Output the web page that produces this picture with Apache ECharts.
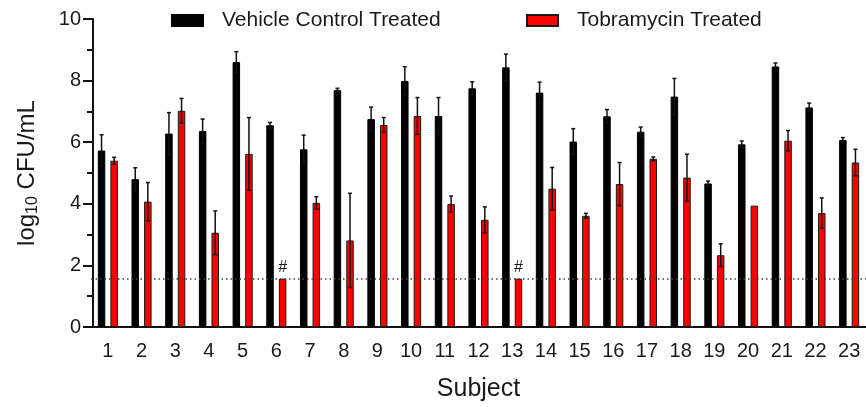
<!DOCTYPE html>
<html><head><meta charset="utf-8">
<script src="https://cdn.jsdelivr.net/npm/echarts@6/dist/echarts.min.js"></script>
<style>html,body{margin:0;padding:0;background:#fff}#c{width:866px;height:407px}</style>
</head><body><div id="c"></div>
<script>
const subjects = ['1','2','3','4','5','6','7','8','9','10','11','12','13','14','15','16','17','18','19','20','21','22','23'];
const vehicle    = [5.73,4.80,6.28,6.36,8.60,6.55,5.77,7.69,6.75,7.99,6.85,7.75,8.43,7.61,6.02,6.84,6.34,7.48,4.66,5.93,8.46,7.13,6.07];
const vehicleErr = [0.51,0.37,0.68,0.39,0.34,0.09,0.46,0.06,0.39,0.46,0.60,0.21,0.43,0.34,0.42,0.22,0.15,0.59,0.08,0.11,0.11,0.14,0.08];
const tobra      = [5.40,4.07,7.02,3.06,5.62,1.57,4.03,2.81,6.56,6.85,3.99,3.48,1.57,4.49,3.61,4.64,5.46,4.85,2.33,3.94,6.05,3.70,5.34];
const tobraErr   = [0.11,0.62,0.40,0.71,1.18,0,0.20,1.53,0.24,0.60,0.26,0.42,0,0.69,0.08,0.70,0.06,0.76,0.37,0,0.33,0.49,0.43];
const markedSubjects = ['6','13'];
const markText = '#';
const detectionLimit = 1.57;
const yTicks = [0, 10, 2];

const FONT = 'Liberation Sans, Arial, sans-serif';
const TXT = '#1a1a1a';
const BAR_W = 7.5, BAR_GAP = 0.68;
const HALF = BAR_W * (1 + BAR_GAP) / 2;

function errRenderer(offset) {
  return function (params, api) {
    const i = api.value(0), v = api.value(1), e = api.value(2);
    if (!e) return null;
    const top = api.coord([i, v + e]);
    const bot = api.coord([i, v - e]);
    const x = top[0] + offset, cap = 2;
    const st = { stroke: '#111', lineWidth: 1.5 };
    return { type: 'group', children: [
      { type: 'line', shape: { x1: x, y1: top[1], x2: x, y2: bot[1] }, style: st },
      { type: 'line', shape: { x1: x - cap, y1: top[1], x2: x + cap, y2: top[1] }, style: st },
      { type: 'line', shape: { x1: x - cap, y1: bot[1], x2: x + cap, y2: bot[1] }, style: st }
    ]};
  };
}

const chart = echarts.init(document.getElementById('c'), null, { renderer: 'canvas' });
chart.setOption({
  animation: false,
  textStyle: { fontFamily: FONT },
  grid: { left: 91, top: 19, width: 776, height: 308.5, containLabel: false },
  legend: [
    { left: 171, top: 10, padding: 0, itemWidth: 31, itemHeight: 11, icon: 'rect', data: ['Vehicle Control Treated'],
      textStyle: { fontFamily: FONT, fontSize: 21, color: TXT, padding: [0, 0, 0, 14] } },
    { left: 526, top: 10, padding: 0, itemWidth: 31, itemHeight: 11, icon: 'rect', data: ['Tobramycin Treated'],
      textStyle: { fontFamily: FONT, fontSize: 21, color: TXT, padding: [0, 0, 0, 14] } }
  ],
  xAxis: {
    type: 'category', data: subjects, boundaryGap: true,
    name: 'Subject', nameLocation: 'middle', nameGap: 50,
    nameTextStyle: { fontFamily: FONT, fontSize: 25, color: TXT },
    axisLine: { lineStyle: { color: '#111', width: 2 } },
    axisTick: { alignWithLabel: true, length: 10, lineStyle: { color: '#111', width: 2 } },
    axisLabel: { fontFamily: FONT, fontSize: 20, color: TXT, margin: 14 },
    splitLine: { show: false }
  },
  yAxis: {
    type: 'value', min: yTicks[0], max: yTicks[1], interval: yTicks[2], offset: -2,
    name: 'log{sub|10} CFU/mL', nameLocation: 'middle', nameGap: 52, nameRotate: 90,
    nameTextStyle: { fontFamily: FONT, fontSize: 24, color: TXT,
      rich: { sub: { fontFamily: FONT, fontSize: 16, color: TXT, padding: [12, 0, 0, 0] } } },
    axisLine: { show: true, lineStyle: { color: '#111', width: 2 } },
    axisTick: { show: true, length: 10, lineStyle: { color: '#111', width: 2 } },
    minorTick: { show: true, splitNumber: 2, length: 6, lineStyle: { color: '#111', width: 2 } },
    axisLabel: { fontFamily: FONT, fontSize: 20, color: TXT, margin: 12 },
    splitLine: { show: false }
  },
  series: [
    { type: 'line', data: [], z: 1, silent: true,
      markLine: { silent: true, symbol: 'none', label: { show: false },
        lineStyle: { color: '#444', width: 1.5, type: [1.5, 3] },
        data: [{ yAxis: detectionLimit }] } },
    { name: 'Vehicle Control Treated', type: 'bar', data: vehicle, z: 2,
      barWidth: BAR_W, barGap: (BAR_GAP * 100) + '%',
      itemStyle: { color: '#000', borderColor: '#000', borderWidth: 1 } },
    { name: 'Tobramycin Treated', type: 'bar', z: 2, barWidth: BAR_W,
      data: tobra.map((v, i) => markedSubjects.includes(subjects[i])
        ? { value: v, label: { show: true, position: 'top', distance: 3, formatter: markText,
            fontFamily: FONT, fontSize: 16, color: TXT } }
        : v),
      itemStyle: { color: '#ff0000', borderColor: '#1a1a1a', borderWidth: 1 } },
    { type: 'custom', z: 3, silent: true, renderItem: errRenderer(-HALF),
      data: vehicle.map((v, i) => [i, v, vehicleErr[i]]) },
    { type: 'custom', z: 3, silent: true, renderItem: errRenderer(HALF),
      data: tobra.map((v, i) => [i, v, tobraErr[i]]) }
  ]
});
</script></body></html>
